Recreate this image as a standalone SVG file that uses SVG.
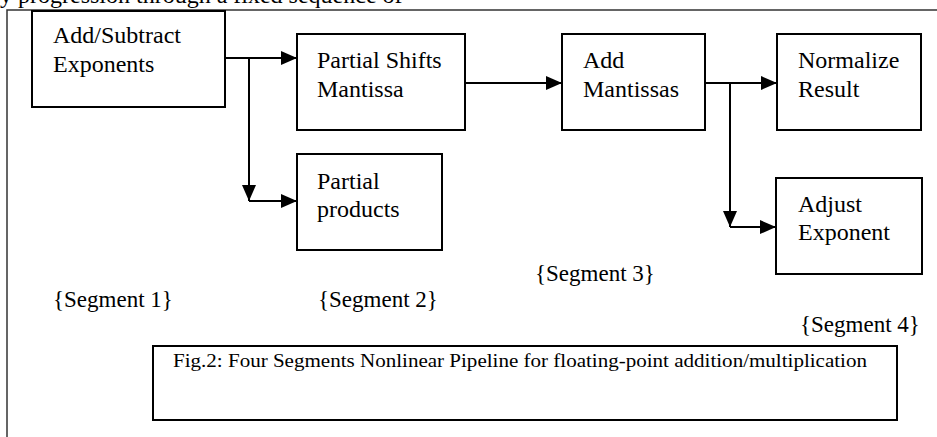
<svg xmlns="http://www.w3.org/2000/svg" width="937" height="437" viewBox="0 0 937 437">
  <style>
    .box { fill: #ffffff; stroke: #000000; stroke-width: 2; }
    text { font-family: 'Liberation Serif', 'Times New Roman', 'DejaVu Serif', serif; fill: #000000; }
    .lbl { font-size: 24px; }
    .seg { font-size: 23px; }
    .cap { font-size: 19px; }
    .wire { fill: none; stroke: #000000; stroke-width: 2; }
    .frame { fill: none; stroke: #333333; stroke-width: 1.5; }
  </style>
  <defs>
    <marker id="arrow" viewBox="0 0 16 14" refX="16" refY="7" markerWidth="16" markerHeight="14" markerUnits="userSpaceOnUse" orient="auto">
      <path d="M0,0 L16,7 L0,14 Z" fill="#000000"/>
    </marker>
  </defs>

  <rect width="937" height="437" fill="#ffffff"/>

  <!-- running text of the page, cut at the top edge -->
  <text class="lbl" x="0" y="3" font-family="Liberation Serif, serif">y progression through a fixed sequence of</text>

  <!-- page frame -->
  <path class="frame" d="M7,437 V10 H937"/>

  <!-- Segment 1 -->
  <g id="add-sub-exponents" font-family="Liberation Serif, serif">
    <rect class="box" x="32" y="11" width="193" height="96"/>
    <text class="lbl" x="53" y="43">Add/Subtract</text>
    <text class="lbl" x="53" y="72">Exponents</text>
  </g>

  <!-- Segment 2 -->
  <g id="partial-shifts">
    <rect class="box" x="297" y="34" width="168" height="96"/>
    <text class="lbl" x="317" y="68">Partial Shifts</text>
    <text class="lbl" x="317" y="97">Mantissa</text>
  </g>
  <g id="partial-products">
    <rect class="box" x="297" y="154" width="145" height="96"/>
    <text class="lbl" x="317" y="189">Partial</text>
    <text class="lbl" x="317" y="217">products</text>
  </g>

  <!-- Segment 3 -->
  <g id="add-mantissas">
    <rect class="box" x="562" y="34" width="143" height="96"/>
    <text class="lbl" x="583" y="68">Add</text>
    <text class="lbl" x="583" y="97">Mantissas</text>
  </g>

  <!-- Segment 4 -->
  <g id="normalize-result">
    <rect class="box" x="777" y="34" width="144" height="96"/>
    <text class="lbl" x="798" y="68">Normalize</text>
    <text class="lbl" x="798" y="97">Result</text>
  </g>
  <g id="adjust-exponent">
    <rect class="box" x="776" y="178" width="146" height="96"/>
    <text class="lbl" x="798" y="212">Adjust</text>
    <text class="lbl" x="798" y="240">Exponent</text>
  </g>

  <!-- connectors -->
  <g id="connectors">
    <line class="wire" x1="225" y1="58" x2="297" y2="58" marker-end="url(#arrow)"/>
    <line class="wire" x1="249" y1="58" x2="249" y2="201" marker-end="url(#arrow)"/>
    <line class="wire" x1="249" y1="201" x2="297" y2="201" marker-end="url(#arrow)"/>
    <line class="wire" x1="465" y1="83" x2="562" y2="83" marker-end="url(#arrow)"/>
    <line class="wire" x1="705" y1="83" x2="777" y2="83" marker-end="url(#arrow)"/>
    <line class="wire" x1="730" y1="83" x2="730" y2="227" marker-end="url(#arrow)"/>
    <line class="wire" x1="730" y1="227" x2="776" y2="227" marker-end="url(#arrow)"/>
  </g>

  <!-- segment labels -->
  <g id="segment-labels">
    <text class="seg" x="53" y="307">{Segment 1}</text>
    <text class="seg" x="318" y="307">{Segment 2}</text>
    <text class="seg" x="535" y="281">{Segment 3}</text>
    <text class="seg" x="800" y="332">{Segment 4}</text>
  </g>

  <!-- caption -->
  <g id="caption">
    <rect class="box" x="153" y="346" width="744" height="74"/>
    <text class="cap" x="173" y="367" textLength="694" lengthAdjust="spacingAndGlyphs">Fig.2: Four Segments Nonlinear Pipeline for floating-point addition/multiplication</text>
  </g>
</svg>
